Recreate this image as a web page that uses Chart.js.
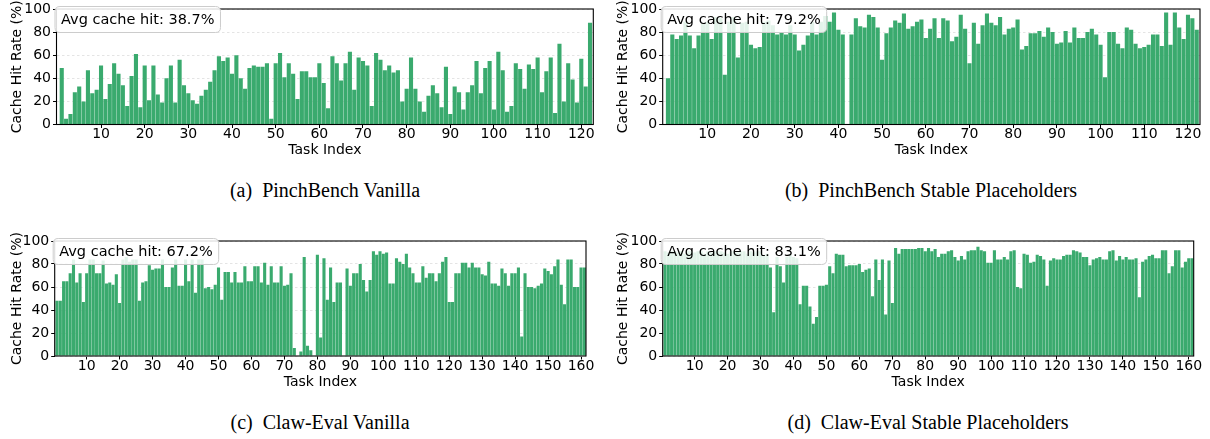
<!DOCTYPE html>
<html>
<head>
<meta charset="utf-8">
<script src="https://cdn.jsdelivr.net/npm/chart.js@4.4.0/dist/chart.umd.min.js"></script>
<style>
  body { margin: 0; background: #fff; }
  #wrap { position: relative; width: 1210px; height: 439px; overflow: hidden; background: #fff; }
  #wrap canvas { position: absolute; }
  .cap { position: absolute; font-family: "Liberation Serif", "Times New Roman", serif; font-size: 20px; color: #000; white-space: pre; transform: translate(-50%, -50%); }
</style>
</head>
<body>
<div id="wrap">
  <canvas id="c1" width="600" height="165" style="left:0px;top:0px"></canvas>
  <canvas id="c2" width="604" height="165" style="left:606px;top:0px"></canvas>
  <canvas id="c3" width="600" height="165" style="left:0px;top:232px"></canvas>
  <canvas id="c4" width="602" height="165" style="left:608px;top:232px"></canvas>
</div>
<script>
// cache hit rate (%) per task
const pinchVanilla = [
  49, 5, 9, 28, 33, 20, 47, 27, 30, 51,
  22, 35, 53, 44, 34, 16, 42, 61, 15, 51,
  21, 51, 26, 19, 40, 51, 19, 56, 34, 27,
  21, 18, 25, 30, 37, 47, 59, 55, 58, 44,
  60, 40, 31, 49, 51, 50, 50, 53, 5, 53,
  62, 41, 53, 44, 22, 46, 46, 41, 41, 53,
  36, 14, 59, 53, 38, 53, 63, 30, 58, 55,
  51, 16, 62, 56, 47, 51, 45, 47, 20, 31,
  58, 31, 20, 11, 25, 34, 27, 15, 50, 9,
  33, 28, 13, 28, 34, 55, 27, 49, 55, 13,
  63, 47, 11, 16, 53, 48, 31, 52, 48, 58,
  28, 46, 58, 10, 70, 20, 53, 39, 19, 57,
  33, 88
];
const pinchStable = [
  40, 78, 74, 77, 89, 77, 66, 77, 88, 89,
  74, 93, 92, 43, 89, 93, 58, 88, 89, 69,
  66, 67, 89, 90, 86, 78, 80, 78, 86, 78,
  64, 69, 77, 89, 78, 89, 94, 89, 97, 82,
  78, 0, 78, 92, 85, 84, 95, 93, 84, 56,
  79, 84, 90, 88, 96, 83, 85, 89, 91, 75,
  83, 92, 75, 92, 90, 72, 76, 95, 83, 53,
  88, 70, 86, 96, 88, 86, 93, 78, 83, 84,
  91, 65, 68, 79, 79, 81, 76, 84, 80, 70,
  71, 81, 71, 84, 75, 75, 80, 83, 78, 69,
  41, 80, 80, 70, 66, 84, 82, 70, 66, 67,
  69, 78, 78, 68, 97, 69, 97, 84, 74, 95,
  92, 82
];
const clawVanilla = [
  48, 48, 65, 65, 72, 84, 64, 72, 47, 72,
  84, 84, 72, 72, 83, 63, 64, 62, 71, 46,
  84, 86, 82, 84, 84, 48, 64, 65, 79, 75,
  76, 76, 84, 60, 60, 77, 84, 61, 61, 84,
  65, 84, 55, 84, 84, 59, 60, 58, 62, 77,
  49, 73, 73, 64, 73, 64, 64, 78, 65, 65,
  78, 78, 64, 81, 62, 78, 64, 64, 78, 61,
  62, 72, 7, 0, 4, 86, 9, 5, 0, 88,
  16, 85, 49, 77, 47, 64, 64, 0, 76, 61,
  72, 72, 80, 66, 56, 66, 91, 88, 91, 89,
  90, 63, 63, 85, 82, 80, 89, 77, 72, 64,
  64, 78, 68, 72, 72, 65, 72, 82, 86, 47,
  47, 72, 72, 81, 81, 77, 81, 77, 77, 71,
  70, 82, 63, 63, 61, 76, 72, 61, 72, 72,
  77, 17, 72, 60, 60, 59, 61, 63, 76, 74,
  71, 78, 84, 62, 45, 84, 84, 60, 60, 77,
  77
];
const clawStable = [
  91, 90, 91, 91, 90, 91, 89, 91, 91, 90,
  91, 91, 89, 91, 90, 91, 91, 91, 90, 89,
  91, 91, 90, 91, 91, 89, 91, 90, 91, 91,
  88, 89, 77, 38, 86, 78, 64, 86, 88, 86,
  85, 45, 61, 61, 43, 28, 34, 61, 61, 62,
  78, 72, 89, 88, 88, 78, 79, 79, 79, 80,
  73, 75, 76, 52, 84, 66, 84, 36, 83, 46,
  94, 89, 93, 93, 93, 93, 93, 94, 94, 91,
  94, 91, 93, 86, 89, 89, 91, 92, 86, 83,
  87, 84, 91, 92, 92, 95, 92, 91, 81, 81,
  92, 84, 84, 86, 84, 91, 92, 60, 59, 89,
  88, 81, 82, 88, 87, 84, 61, 83, 85, 84,
  84, 87, 88, 88, 92, 91, 90, 86, 86, 79,
  84, 85, 86, 84, 84, 91, 92, 83, 87, 84,
  86, 84, 84, 85, 51, 82, 84, 87, 88, 85,
  85, 92, 92, 72, 78, 92, 92, 77, 82, 85,
  85
];

const avgLabels = ["Avg cache hit: 38.7%", "Avg cache hit: 79.2%", "Avg cache hit: 67.2%", "Avg cache hit: 83.1%"];
const captions = ["(a)  PinchBench Vanilla", "(b)  PinchBench Stable Placeholders",
                  "(c)  Claw-Eval Vanilla", "(d)  Claw-Eval Stable Placeholders"];
const yTicks = [0, 20, 40, 60, 80, 100];
const xTickStep = 10;

const barColor = "rgb(58,170,110)";
const sans = "DejaVu Sans";

// frame round the axes and the "Avg cache hit" box
const panelDecor = {
  id: "panelDecor",
  afterDatasetsDraw(chart) {
    const { ctx, chartArea: a } = chart;
    ctx.save();
    ctx.strokeStyle = "#000";
    ctx.lineWidth = 1.1;
    ctx.strokeRect(a.left, a.top, a.right - a.left, a.bottom - a.top);
    ctx.restore();
  },
  afterDraw(chart, args, opts) {
    const { ctx, chartArea: a } = chart;
    ctx.save();
    ctx.font = "14.5px '" + sans + "'";
    const w = ctx.measureText(opts.text).width + 12;
    const h = 26, r = 5;
    const x = a.left - 1.5, y = a.top - 2.5;
    ctx.beginPath();
    ctx.moveTo(x + r, y);
    ctx.lineTo(x + w - r, y);
    ctx.quadraticCurveTo(x + w, y, x + w, y + r);
    ctx.lineTo(x + w, y + h - r);
    ctx.quadraticCurveTo(x + w, y + h, x + w - r, y + h);
    ctx.lineTo(x + r, y + h);
    ctx.quadraticCurveTo(x, y + h, x, y + h - r);
    ctx.lineTo(x, y + r);
    ctx.quadraticCurveTo(x, y, x + r, y);
    ctx.closePath();
    ctx.fillStyle = "rgba(255,255,255,0.86)";
    ctx.fill();
    ctx.strokeStyle = "#cccccc";
    ctx.lineWidth = 1;
    ctx.stroke();
    ctx.fillStyle = "#000";
    ctx.textBaseline = "middle";
    ctx.fillText(opts.text, x + 6, y + h / 2 + 0.5);
    ctx.restore();
  }
};

function makePanel(id, values, avgText, xRange, area, titlePad) {
  const canvas = document.getElementById(id);
  const points = values.map((v, i) => ({ x: i + 1, y: v }));
  return new Chart(canvas, {
    type: "bar",
    data: {
      datasets: [{
        data: points,
        backgroundColor: barColor,
        borderWidth: 0,
        barPercentage: 0.94,
        categoryPercentage: 1.0
      }]
    },
    options: {
      responsive: false,
      animation: false,
      devicePixelRatio: 1,
      layout: { padding: { top: area.top, right: canvas.width - area.right, left: 0, bottom: 0 } },
      plugins: {
        legend: { display: false },
        tooltip: { enabled: false },
        panelDecor: { text: avgText }
      },
      scales: {
        x: {
          type: "linear",
          min: xRange[0],
          max: xRange[1],
          offset: false,
          grid: { offset: false, drawOnChartArea: false, tickLength: 3.5, tickColor: "#000", tickWidth: 1 },
          border: { display: false },
          ticks: {
            stepSize: xTickStep,
            includeBounds: false,
            autoSkip: false,
            maxRotation: 0,
            minRotation: 0,
            padding: -1.6,
            color: "#000",
            font: { family: sans, size: 14 }
          },
          afterBuildTicks: s => { s.ticks = s.ticks.filter(t => t.value >= xTickStep && t.value % xTickStep === 0); },
          afterFit: s => { s.height = canvas.height - area.bottom; },
          title: { display: true, text: "Task Index", color: "#000", font: { family: sans, size: 14 }, padding: { top: 0, bottom: 6.6 } }
        },
        y: {
          min: 0,
          max: 100,
          grid: { color: "#e4e4e4", lineWidth: 1, tickLength: 3.5, tickColor: "#000", tickBorderDash: [] },
          border: { display: false, dash: [2.5, 2.5] },
          ticks: { stepSize: 20, padding: 2, color: "#000", font: { family: sans, size: 14, lineHeight: 1 } },
          afterBuildTicks: s => { s.ticks = yTicks.map(v => ({ value: v })); },
          afterFit: s => { s.width = area.left; },
          title: { display: true, text: "Cache Hit Rate (%)", color: "#000", font: { family: sans, size: 14 }, padding: { top: titlePad, bottom: 0 } }
        }
      }
    },
    plugins: [panelDecor]
  });
}

makePanel("c1", pinchVanilla, avgLabels[0], [-0.2, 122.75], { left: 56.5, right: 593.3, top: 8, bottom: 124.5 }, 8.6);
makePanel("c2", pinchStable, avgLabels[1], [-0.2, 122.75], { left: 56.7, right: 594, top: 8, bottom: 124.5 }, 8.6);
makePanel("c3", clawVanilla, avgLabels[2], [0.3, 161.5], { left: 54.7, right: 586, top: 8, bottom: 124 }, 8.6);
makePanel("c4", clawStable, avgLabels[3], [0.3, 161.5], { left: 54.7, right: 585.7, top: 8, bottom: 124 }, 6.6);

// sub-figure captions under each panel
const capPos = [[325, 190], [931, 190], [320, 422], [928, 422]];
const wrap = document.getElementById("wrap");
captions.forEach((c, i) => {
  const d = document.createElement("div");
  d.className = "cap";
  d.textContent = c;
  d.style.left = capPos[i][0] + "px";
  d.style.top = capPos[i][1] + "px";
  wrap.appendChild(d);
});
</script>
</body>
</html>
